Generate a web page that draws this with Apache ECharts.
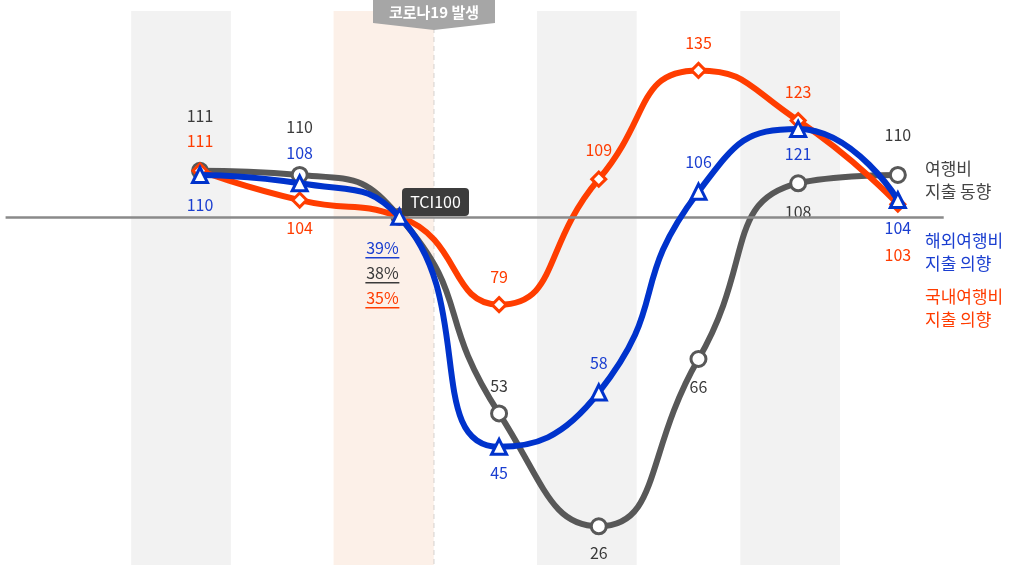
<!DOCTYPE html>
<html><head><meta charset="utf-8">
<script src="https://cdn.jsdelivr.net/npm/echarts@6/dist/echarts.min.js"></script>
<style>html,body{margin:0;padding:0;background:#fff}#c{width:1013px;height:565px}</style>
</head><body><div id="c"></div>
<script>
// ---- data ----
var periods = ['P1','P2','P3','P4','P5','P6','P7','P8'];
var spending = [111,110,100,53,26,66,108,110];          // 여행비 지출 동향
var overseas = [110,108,100,45,58,106,121,104];         // 해외여행비 지출 의향
var domestic = [111,104,100,79,109,135,123,103];        // 국내여행비 지출 의향
var pctLabels = {spending:'38%', overseas:'39%', domestic:'35%'}; // 기준점(TCI100) 라벨
var seriesNames = ['여행비\n지출 동향','해외여행비\n지출 의향','국내여행비\n지출 의향'];
var baseValue = 100;
var eventLabel = '코로나19 발생';
var baseLabel = 'TCI100';

// ---- label placement (pixel offsets from the point) ----
var offGray = [-55,-48,54,-27,27,28,29,-40];
var offBlue = [30,-30,29,26,-30,-30,25,28];
var offOrange = [-30,28,79,-28,-29,-27,-29,51];

var C_GRAY='#585858', C_BLUE='#0033cc', C_ORANGE='#ff3d00';
var T_GRAY='#3a3a3a', T_BLUE='#1a3ed0', T_ORANGE='#ff3c00';
var FONT='"Noto Sans CJK KR","Noto Sans",sans-serif';

function build(vals, offs, tcolor, pct){
  return vals.map(function(v,i){
    var isBase = (i===2);
    var lab = {show:true, position:'inside', offset:[0, offs[i]], color:tcolor, fontSize:16, fontFamily:FONT};
    if(isBase){
      lab.formatter = '{t|'+pct+'}\n{u|}';
      lab.offset = [-17, offs[i]+3];
      lab.rich = {t:{color:tcolor,fontSize:16,fontFamily:FONT,lineHeight:18},
                  u:{width:34,height:1.5,backgroundColor:tcolor}};
    } else {
      lab.formatter = String(v);
    }
    return {value:[i, v], label:lab};
  });
}

function series(name, vals, offs, color, tcolor, symbol, pct, z, extra){
  var s = {
    name:name, type:'line', smooth:0.55, z:z,
    data: build(vals, offs, tcolor, pct),
    symbol:symbol, symbolSize: symbol==='diamond'?14:15,
    lineStyle:{color:color, width:6},
    itemStyle:{color:'#fff', borderColor:color, borderWidth:3},
    emphasis:{disabled:true}
  };
  for(var k in extra) s[k]=extra[k];
  return s;
}

var chart = echarts.init(document.getElementById('c'), null, {renderer:'canvas'});
var option = {
  animation:false,
  grid:{left:0,right:0,top:11,bottom:0,containLabel:false},
  xAxis:{type:'value', min:-2.006, max:8.155, show:false},
  yAxis:{type:'value', min:16.75, max:149.2, show:false},
  series:[
    series(seriesNames[0], spending, offGray, C_GRAY, T_GRAY, 'circle', pctLabels.spending, 3, {
      markArea:{silent:true, label:{show:false}, data:[
        [{xAxis:-0.69, itemStyle:{color:'#f2f2f2'}},{xAxis:0.31}],
        [{xAxis:1.34, itemStyle:{color:'#fcf0e8'}},{xAxis:2.345}],
        [{xAxis:3.38, itemStyle:{color:'#f2f2f2'}},{xAxis:4.38}],
        [{xAxis:5.42, itemStyle:{color:'#f2f2f2'}},{xAxis:6.42}]
      ]},
      markLine:{silent:true, symbol:'none', label:{show:false}, data:[
        [{coord:[-1.95, baseValue], lineStyle:{color:'#8a8a8a', width:2.5, type:'solid'}},{coord:[7.46, baseValue]}]
      ]}
    }),
    series(seriesNames[2], domestic, offOrange, C_ORANGE, T_ORANGE, 'diamond', pctLabels.domestic, 4, {}),
    series(seriesNames[1], overseas, offBlue, C_BLUE, T_BLUE, 'triangle', pctLabels.overseas, 5, {})
  ],
  graphic:[
    {type:'line', z:1, silent:true, shape:{x1:433.5,y1:28,x2:433.5,y2:565}, style:{stroke:'#aaaaaa', lineWidth:1.5, lineDash:[5,4]}},
    {type:'polygon', z:10, shape:{points:[[373,0],[495,0],[495,23],[434,30],[373,23]]}, style:{fill:'#a6a6a6'}},
    {type:'text', z:11, x:434, y:12, style:{text:eventLabel, fill:'#fff', font:'bold 15px '+FONT, align:'center', verticalAlign:'middle'}},
    {type:'rect', z:10, shape:{x:402,y:188,width:67,height:28,r:4}, style:{fill:'#3c3c3c'}},
    {type:'text', z:11, x:435.5, y:202, style:{text:baseLabel, fill:'#fff', font:'16px '+FONT, align:'center', verticalAlign:'middle'}},
    {type:'text', z:11, x:925, y:157, style:{text:seriesNames[0], fill:'#444', font:'17px '+FONT, lineHeight:23}},
    {type:'text', z:11, x:925, y:229, style:{text:seriesNames[1], fill:T_BLUE, font:'17px '+FONT, lineHeight:23}},
    {type:'text', z:11, x:925, y:285, style:{text:seriesNames[2], fill:T_ORANGE, font:'17px '+FONT, lineHeight:23}}
  ]
};
chart.setOption(option);
</script>
</body></html>
